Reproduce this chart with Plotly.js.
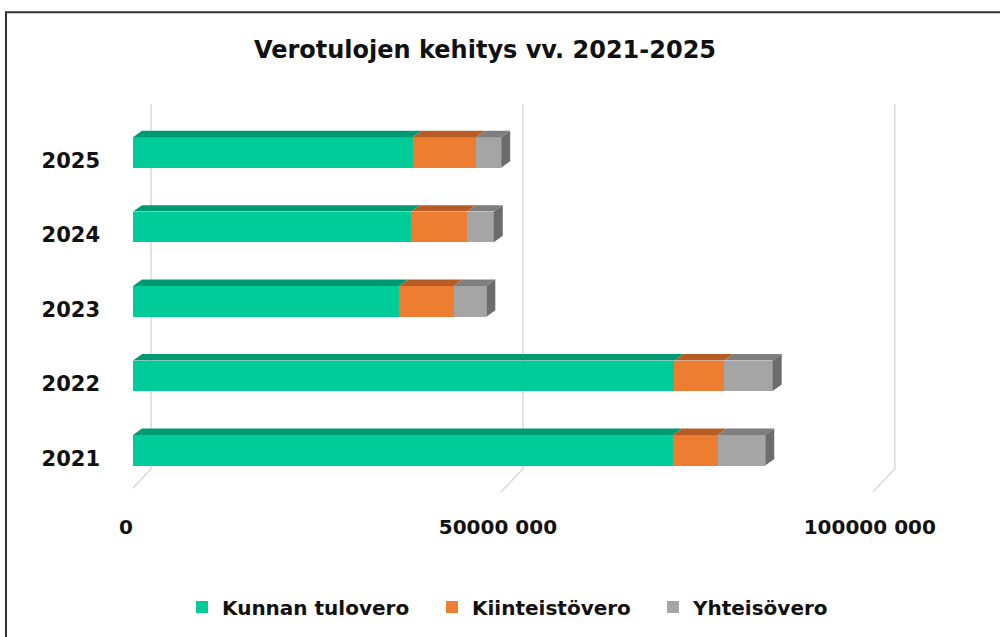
<!DOCTYPE html>
<html>
<head>
<meta charset="utf-8">
<script src="https://cdn.plot.ly/plotly-3.0.1.min.js"></script>
<style>html,body{margin:0;padding:0;background:#fff;}#chart{width:1000px;height:637px;}</style>
</head>
<body>
<div id="chart"></div>
<script>
// ---- data ----
const years = ['2021', '2022', '2023', '2024', '2025'];
const kunnanTulovero = [72600000, 72800000, 35800000, 37400000, 37600000];
const kiinteistovero = [6000000, 6700000, 7300000, 7500000, 8500000];
const yhteisovero = [6400000, 6500000, 4400000, 3600000, 3400000];
const seriesNames = ['Kunnan tulovero', 'Kiinteistövero', 'Yhteisövero'];
const xTickVals = [0, 50000000, 100000000];
const xTickText = ['0', '50000 000', '100000 000'];

// ---- styling ----
const faceColors = ['#00CC99', '#ED7D31', '#A5A5A5'];
const topColors = ['#009A72', '#B85C25', '#7E7E7E'];
const sideColor = '#6C6C6C';
const FONT = 'DejaVu Sans, Verdana, sans-serif';
const legendMarkerPx = [196, 446, 667];

const W = 1000, H = 637;
const margin = {l: 133, r: 86, t: 104, b: 141};
const xRange = [0, 105000000];
const yRange = [-0.6, 4.65];
const plotW = W - margin.l - margin.r;
const plotH = H - margin.t - margin.b;
const pxPerX = plotW / (xRange[1] - xRange[0]);
const pxPerY = plotH / (yRange[1] - yRange[0]);
const barWidth = 0.41;
const depthX = 9 / pxPerX;     // 3D depth offset in data units
const depthY = 6.5 / pxPerY;

const idx = years.map((_, i) => i);
const series = [kunnanTulovero, kiinteistovero, yhteisovero];
const legendIds = ['legend', 'legend2', 'legend3'];

const traces = series.map((vals, s) => ({
  type: 'bar',
  orientation: 'h',
  name: seriesNames[s],
  legend: legendIds[s],
  x: vals,
  y: idx,
  width: barWidth,
  marker: {color: faceColors[s], line: {width: 0}},
  hovertemplate: '%{x}<extra>' + seriesNames[s] + '</extra>'
}));

const shapes = [];
// slanted gridlines (back wall + floor)
const gridOff = 18 / pxPerX;
const floorBack = yRange[0] + 26 / pxPerY;
xTickVals.forEach(t => {
  shapes.push({type: 'path', layer: 'below', xref: 'x', yref: 'y',
    path: `M ${t + gridOff} ${yRange[1]} L ${t + gridOff} ${floorBack} L ${t - 4 / pxPerX} ${yRange[0] + 3 / pxPerY}`,
    line: {color: '#D9D9D9', width: 1.5}});
});
// 3D top faces and side face
idx.forEach(i => {
  let start = 0;
  const yTop = i + barWidth / 2;
  const yBot = i - barWidth / 2;
  series.forEach((vals, s) => {
    const end = start + vals[i];
    shapes.push({type: 'path', layer: 'above', xref: 'x', yref: 'y',
      path: `M ${start} ${yTop} L ${end} ${yTop} L ${end + depthX} ${yTop + depthY} L ${start + depthX} ${yTop + depthY} Z`,
      fillcolor: topColors[s], line: {width: 0}});
    start = end;
  });
  shapes.push({type: 'path', layer: 'above', xref: 'x', yref: 'y',
    path: `M ${start} ${yBot} L ${start} ${yTop} L ${start + depthX} ${yTop + depthY} L ${start + depthX} ${yBot + depthY} Z`,
    fillcolor: sideColor, line: {width: 0}});
});
// outer frame
shapes.push({type: 'rect', xref: 'paper', yref: 'paper', layer: 'above',
  x0: (6 - margin.l) / plotW, x1: (1010 - margin.l) / plotW,
  y0: (H - margin.b - 660) / plotH, y1: (H - margin.b - 12) / plotH,
  line: {color: '#333', width: 2}, fillcolor: 'rgba(0,0,0,0)'});

const layout = {
  width: W, height: H,
  margin: margin,
  paper_bgcolor: '#fff', plot_bgcolor: '#fff',
  barmode: 'stack',
  font: {family: FONT, color: '#111'},
  title: {text: 'Verotulojen kehitys vv. 2021-2025', font: {family: FONT, size: 24, weight: 'bold', color: '#111'},
    xref: 'container', yref: 'container', x: 0.485, xanchor: 'center', y: 1 - 50 / H, yanchor: 'middle'},
  xaxis: {range: xRange, showgrid: false, zeroline: false, showline: false,
    tickvals: xTickVals, ticktext: xTickText, ticks: '', ticklabelstandoff: 18, ticklabelshift: -7,
    tickfont: {family: FONT, size: 20, weight: 'bold', color: '#111'}, fixedrange: true},
  yaxis: {range: yRange, showgrid: false, zeroline: false, showline: false,
    tickvals: idx, ticktext: years, ticks: '', ticklabelstandoff: 32, ticklabelshift: 8,
    tickfont: {family: FONT, size: 21, weight: 'bold', color: '#111'}, fixedrange: true},
  shapes: shapes,
  showlegend: true
};
legendIds.forEach((id, s) => {
  layout[id] = {orientation: 'h', x: (legendMarkerPx[s] - 14 - margin.l) / plotW, xanchor: 'left',
    y: (H - margin.b - 607) / plotH, yanchor: 'middle', bgcolor: 'rgba(0,0,0,0)',
    font: {family: FONT, size: 20, weight: 'bold', color: '#111'}};
});

Plotly.newPlot('chart', traces, layout, {displayModeBar: false, staticPlot: true});
</script>
</body>
</html>
